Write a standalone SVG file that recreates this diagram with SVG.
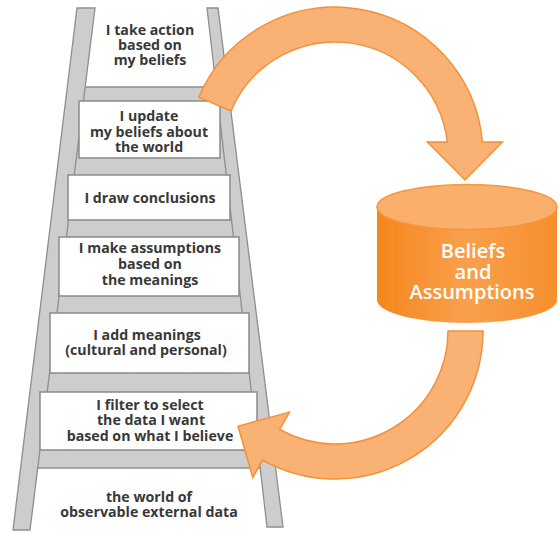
<svg xmlns="http://www.w3.org/2000/svg" width="559" height="533" viewBox="0 0 559 533">
  <defs>
    <linearGradient id="body" x1="0" y1="0" x2="1" y2="0">
      <stop offset="0" stop-color="#F6861C"/>
      <stop offset="0.5" stop-color="#F9A04D"/>
      <stop offset="1" stop-color="#F78F2C"/>
    </linearGradient>
    <style>
      .rail { fill: #CDCDCD; stroke: #8E8E8E; stroke-width: 1.3; }
      .rung { fill: #CDCDCD; }
      .box { fill: #FFFFFF; stroke: #8A8A8A; stroke-width: 1.5; }
      .edge { stroke: #8E8E8E; stroke-width: 1.3; fill: none; }
      .lbl { font-family: "Open Sans", "Liberation Sans", sans-serif; font-weight: 700; font-size: 14.2px; fill: #383838; text-anchor: middle; }
      .cyl { font-family: "Open Sans", "Liberation Sans", sans-serif; font-weight: 600; font-size: 20px; fill: #FFFFFF; text-anchor: middle; }
      .arrow { fill: #F9B273; stroke: #F3903A; stroke-width: 1.5; stroke-linejoin: miter; }
    </style>
  </defs>
  <rect width="559" height="533" fill="#FFFFFF"/>

  <g id="ladder">
    <polygon class="rung" points="67.3,87 227.9,87 275.5,468 20.4,468"/>
    <line class="edge" x1="85" y1="87" x2="216" y2="87"/>
    <line class="edge" x1="37.5" y1="468" x2="260" y2="468"/>
    <polygon class="rail" points="77,8 95,8 30,530 13,530"/>
    <polygon class="rail" points="207,8 218,8 283,527 267,527"/>
  </g>

  <g id="step7">
    <text class="lbl" x="149" y="502">the world of</text>
    <text class="lbl" x="149" y="517">observable external data</text>
  </g>
  <g id="step6">
    <rect class="box" x="40" y="392" width="217" height="58"/>
    <text class="lbl" x="150" y="410">I filter to select</text>
    <text class="lbl" x="151" y="425">the data I want</text>
    <text class="lbl" x="150" y="441">based on what I believe</text>
  </g>
  <g id="step5">
    <rect class="box" x="50" y="313" width="199" height="60"/>
    <text class="lbl" x="147" y="340">I add meanings</text>
    <text class="lbl" x="146" y="355">(cultural and personal)</text>
  </g>
  <g id="step4">
    <rect class="box" x="59" y="237" width="180" height="59"/>
    <text class="lbl" x="150" y="253">I make assumptions</text>
    <text class="lbl" x="150" y="269">based on</text>
    <text class="lbl" x="150" y="285">the meanings</text>
  </g>
  <g id="step3">
    <rect class="box" x="68" y="175" width="162" height="45"/>
    <text class="lbl" x="150" y="203">I draw conclusions</text>
  </g>
  <g id="step2">
    <rect class="box" x="79" y="101" width="141" height="57"/>
    <text class="lbl" x="149" y="121">I update</text>
    <text class="lbl" x="149" y="137">my beliefs about</text>
    <text class="lbl" x="149" y="152">the world</text>
  </g>
  <g id="step1">
    <text class="lbl" x="150" y="35">I take action</text>
    <text class="lbl" x="150" y="50">based on</text>
    <text class="lbl" x="150" y="65">my beliefs</text>
  </g>

  <g id="connectors">
    <path class="arrow" d="M 198.8 97.2 A 148 148 0 0 1 482.4 142 L 502.4 142 L 465 180 L 427.4 142 L 447.3 142 A 113 113 0 0 0 231 110.9 Z"/>
    <path class="arrow" d="M 483 331 A 148 148 0 0 1 262.6 460.1 L 252.8 477.5 L 238 426.2 L 289.5 412.1 L 279.7 429.5 A 113 113 0 0 0 448 331 Z"/>
  </g>

  <g id="beliefs">
    <path d="M 377 207 L 377 300 A 90 23 0 0 0 557 300 L 557 207 Z" fill="url(#body)"/>
    <ellipse cx="467" cy="207" rx="90" ry="22.5" fill="#FAB06C" stroke="#F6963E" stroke-width="1.5"/>
    <text class="cyl" x="473" y="258">Beliefs</text>
    <text class="cyl" x="473" y="279">and</text>
    <text class="cyl" x="472" y="299">Assumptions</text>
  </g>
</svg>
